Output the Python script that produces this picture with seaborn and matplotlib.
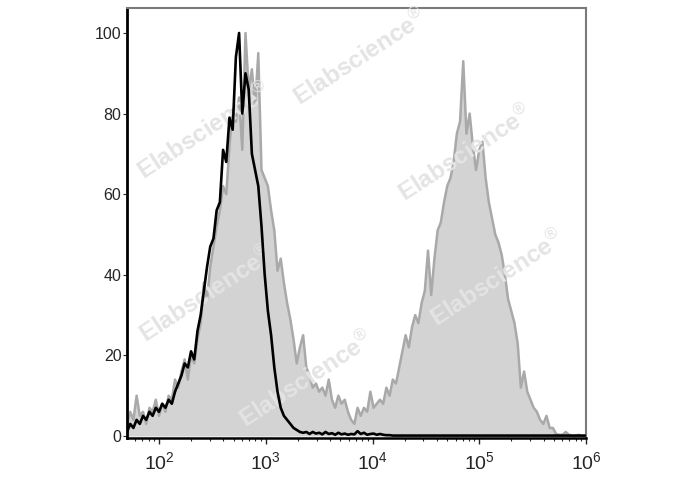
import numpy as np
import pandas as pd
import matplotlib
matplotlib.use("Agg")
import matplotlib.pyplot as plt
import seaborn as sns

# channel grid (log10 of fluorescence), FlowJo-style evenly spaced bins
log_channel = np.linspace(1.70, 5.99, 144)

# isotype control (black line), % of max
isotype = [1, 3, 2, 4, 3, 5, 4, 6, 5, 7,
           6, 8, 7, 9, 8, 11, 13, 15, 18, 17,
           21, 19, 26, 30, 36, 42, 47, 49, 56, 58,
           71, 68, 79, 76, 94, 100, 80, 90, 86, 70,
           66, 62, 52, 40, 31, 25, 17, 11, 7, 5,
           4, 3, 2, 1.5, 1, 0.8, 1, 0.5, 1, 0.6,
           0.8, 0.4, 1, 0.5, 0.7, 0.3, 0.8, 0.4, 0.6, 0.3,
           0.5, 0.4, 1.2, 0.5, 0.8, 0.3, 0.5, 0.6, 0.3, 0.5,
           0.3, 0.2, 0.2, 0.1, 0.1, 0.1, 0.1, 0.1, 0.1, 0.1,
           0.1, 0.1, 0.1, 0.1, 0.1, 0.1, 0.1, 0.1, 0.1, 0.1,
           0.1, 0.1, 0.1, 0.1, 0.1, 0.1, 0.1, 0.1, 0.1, 0.1,
           0.1, 0.1, 0.1, 0.1, 0.1, 0.1, 0.1, 0.1, 0.1, 0.1,
           0.1, 0.1, 0.1, 0.1, 0.1, 0.1, 0.1, 0.1, 0.1, 0.1,
           0.1, 0.1, 0.1, 0.1, 0.1, 0.1, 0.1, 0.1, 0.1, 0.1,
           0.1, 0.1, 0.1, 0.1]

# stained sample (grey filled), % of max
stained = [3, 6, 4, 10, 5, 6, 3, 7, 6, 9,
           5, 8, 6, 10, 9, 14, 12, 16, 19, 14,
           20, 18, 24, 28, 38, 34, 42, 47, 52, 56,
           62, 60, 72, 81, 78, 84, 71, 100, 86, 91,
           82, 95, 66, 64, 62, 56, 51, 41, 44, 38,
           33, 29, 24, 18, 22, 25, 17, 15, 12, 13,
           11, 12, 10, 14, 9, 7, 10, 8, 9, 6,
           4, 3, 7, 5, 7, 6, 11, 7, 8, 9,
           8, 12, 10, 14, 13, 17, 21, 25, 22, 27,
           30, 28, 33, 36, 46, 35, 44, 51, 53, 58,
           62, 64, 68, 75, 78, 93, 75, 80, 72, 66,
           71, 73, 64, 58, 54, 50, 48, 45, 40, 34,
           31, 28, 23, 12, 16, 11, 9, 7, 6, 4,
           3, 5, 2, 2, 0.5, 0.3, 0.3, 1, 0.3, 0,
           0, 0.3, 0, 0]

df = pd.DataFrame({"fl": 10 ** log_channel, "isotype": isotype, "stained": stained})

watermark_pos = [(0.508, 0.885), (0.168, 0.713), (0.738, 0.662),
                 (0.806, 0.372), (0.172, 0.334), (0.390, 0.135)]

sns.set_style("ticks")
plt.rcParams["font.family"] = ["Liberation Sans", "DejaVu Sans"]
plt.rcParams["mathtext.fontset"] = "custom"
plt.rcParams["mathtext.rm"] = "Liberation Sans"

fig = plt.figure(figsize=(6.88, 4.90), dpi=100)
ax = fig.add_axes([127 / 688, 1 - 438 / 490, 459 / 688, 430 / 490])

ax.fill_between(df["fl"], 0, df["stained"], color="#d3d3d3", lw=0, zorder=1)
sns.lineplot(data=df, x="fl", y="stained", color="#a9a9a9", lw=1.8, ax=ax, zorder=2)

# faint watermark
for wx, wy in watermark_pos:
    ax.text(wx, wy, r"Elabscience$^{\circledR}$", transform=ax.transAxes, rotation=33,
            fontsize=17.5, fontweight="bold", color="#e4e4e4",
            ha="center", va="center", zorder=3)

sns.lineplot(data=df, x="fl", y="isotype", color="black", lw=1.9, ax=ax, zorder=4)

ax.set_xscale("log")
ax.set_xlim(10 ** 1.70, 10 ** 6.0)
ax.set_ylim(-0.5, 106.2)
ax.set_xticks([1e2, 1e3, 1e4, 1e5, 1e6])
ax.set_xticklabels([r"$10^2$", r"$10^3$", r"$10^4$", r"$10^5$", r"$10^6$"])
ax.set_yticks([0, 20, 40, 60, 80, 100])
ax.set_xlabel("")
ax.set_ylabel("")

ax.tick_params(axis="x", which="major", length=4, width=1, labelsize=14, pad=6, direction="out")
ax.tick_params(axis="x", which="minor", length=2.5, width=0.8, direction="out")
ax.tick_params(axis="y", which="major", length=3, width=0.8, labelsize=11.5, pad=1, direction="out")

for s in ["top", "right"]:
    ax.spines[s].set_color("#7a7a7a")
    ax.spines[s].set_linewidth(1.5)
    ax.spines[s].set_visible(True)
ax.spines["left"].set_color("black")
ax.spines["left"].set_linewidth(2)
ax.spines["bottom"].set_color("black")
ax.spines["bottom"].set_linewidth(1.8)

fig.savefig("out.png", dpi=100)
